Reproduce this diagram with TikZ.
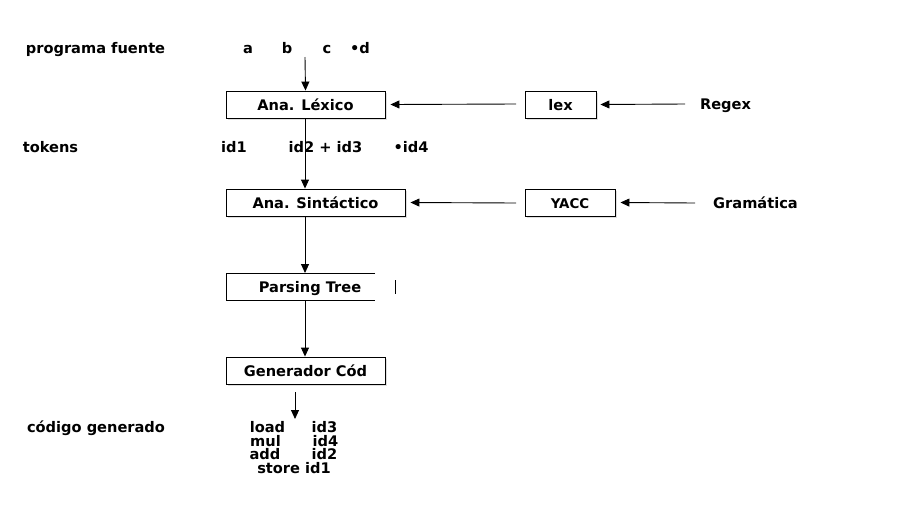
\documentclass[tikz,border=0pt]{standalone}
\usepackage{fontspec}
\setmainfont{DejaVu Sans}
\usetikzlibrary{arrows.meta,shadows}
\begin{document}
\begin{tikzpicture}[x=1pt,y=-1pt,
  every node/.style={font=\bfseries\fontsize{14.6}{17}\selectfont, inner sep=0pt, text height=14.6pt, text depth=3pt},
  box/.style={draw, line width=0.9pt, fill=white, drop shadow={shadow xshift=2pt, shadow yshift=-2pt, opacity=0.25}},
  lbl/.style={anchor=center},
  arr/.style={-{Triangle[length=9pt,width=8pt]}, line width=0.9pt}]
\useasboundingbox (0,0) rectangle (910,504);
% row 1
\node[lbl] (pf) at (95.5,48) {programa fuente};
\node[lbl] (a) at (248,48) {a};
\node[lbl] (b) at (287,48) {b};
\node[lbl] (c) at (327,48) {c};
\node[lbl] (d) at (360,48) {•d};
\coordinate (in1) at (305,57);
% lexico
\node[box, minimum width=159pt, minimum height=27pt] (lexico) at (305.5,104.5) {Ana. Léxico};
\node[box, minimum width=71pt, minimum height=27pt] (lex) at (560.5,104.5) {lex};
\node[lbl] (regex) at (725.5,104) {Regex};
\coordinate (regexL) at (685,104);
\coordinate (lexL) at (516,104);
\draw[arr] (in1) -- (lexico.north);
\draw[arr] (regexL) -- ([xshift=4pt]lex.east);
\draw[arr] (lexL) -- ([xshift=5pt]lexico.east);
% tokens
\node[lbl] (tok) at (50.5,147) {tokens};
\node[lbl] (id1) at (234,147) {id1};
\node[lbl] (id23) at (325.5,147) {id2 + id3};
\node[lbl] (id4) at (411,147) {•id4};
% sintactico
\node[box, minimum width=179pt, minimum height=27pt] (sint) at (315.5,202.5) {Ana. Sintáctico};
\node[box, minimum width=90pt, minimum height=27pt, font=\bfseries\fontsize{13.4}{16}\selectfont, text height=11.6pt, text depth=0pt] (yacc) at (570,202.5) {YACC};
\node[lbl] (gram) at (755.5,203) {Gramática};
\coordinate (gramL) at (695,203);
\coordinate (yaccL) at (516,203);
\draw[arr] (lexico.south -| in1) -- (sint.north -| in1);
\draw[arr] (gramL) -- ([xshift=5pt]yacc.east);
\draw[arr] (yaccL) -- ([xshift=5pt]sint.east);
% parsing tree
\coordinate (ptNW) at (226,273);
\coordinate (ptNE) at (375,273);
\coordinate (ptSW) at (226,300);
\coordinate (ptSE) at (375,300);
\draw[line width=0.9pt] (ptNE) -- (ptNW) -- (ptSW) -- (ptSE);
\node[lbl] (pt) at (310,287) {Parsing Tree};
\coordinate (barT) at (395,280);
\coordinate (barB) at (395,294);
\draw[line width=0.9pt] (barT) -- (barB);
\draw[arr] (sint.south -| in1) -- (in1 |- ptNW);
% generador
\node[box, minimum width=159pt, minimum height=27pt] (gen) at (305.5,370.5) {Generador Cód};
\draw[arr] (in1 |- ptSW) -- (gen.north -| in1);
\coordinate (genO) at (295,392);
\coordinate (codeT) at (295,419);
\draw[arr] (genO) -- (codeT);
% codigo
\node[lbl] (cg) at (96,427) {código generado};
\node[lbl] (l1a) at (267.5,427) {load};
\node[lbl] (l1b) at (324.5,427) {id3};
\node[lbl] (l2a) at (265.5,440.5) {mul};
\node[lbl] (l2b) at (325.5,440.5) {id4};
\node[lbl] (l3a) at (265,454) {add};
\node[lbl] (l3b) at (324.5,454) {id2};
\node[lbl] (l4) at (294,468) {store id1};
\end{tikzpicture}
\end{document}
